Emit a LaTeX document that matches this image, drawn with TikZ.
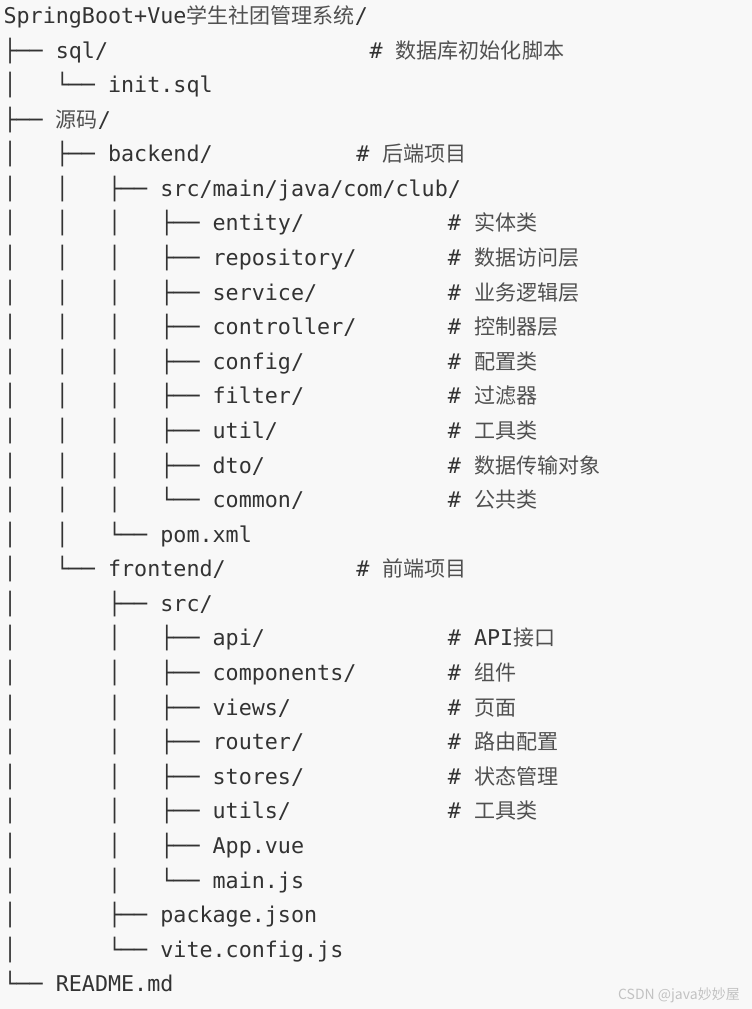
\documentclass[tikz,border=0pt]{standalone}
\usepackage{fontspec}
\setmainfont{DejaVu Sans Mono}
\newfontfamily\cjk[Scale=0.97]{Noto Sans CJK SC}
\newfontfamily\markfont{Noto Sans CJK SC}
\definecolor{bgpage}{HTML}{F8F8F8}
\definecolor{codetext}{HTML}{333333}
\definecolor{cjktext}{HTML}{505050}
\definecolor{markgray}{HTML}{C2C2C2}
\def\zh#1{{\cjk\color{cjktext}#1}}
\def\tpipe{│~~~}
\def\tgap{~~~~}
\def\tee{├──~}
\def\elbow{└──~}
\tikzset{
	treerow/.style={anchor=base west, inner sep=0pt, text=codetext, font=\fontsize{16.28}{20}\selectfont},
	cmt/.style={treerow},
}

\begin{document}
\begin{tikzpicture}[x=0.75pt, y=-0.75pt]
			%%%%% START %%%%%
			
			\path[fill=bgpage, use as bounding box] (0, 0) rectangle (752, 1009);
			
			\node[treerow] (l1) at (3.3, 23.5) {SpringBoot+Vue\zh{学生社团管理系统}/};
			\node[treerow] (l2) at (3.3, 58.1) {\tee sql/};
			\node[cmt] (c2) at (369.3, 58.1) {\#~\zh{数据库初始化脚本}};
			\node[treerow] (l3) at (3.3, 92.7) {\tpipe\elbow init.sql};
			\node[treerow] (l4) at (3.3, 127.2) {\tee\zh{源码}/};
			
			% backend
			\node[treerow] (l5) at (3.3, 161.8) {\tpipe\tee backend/};
			\node[cmt] (c5) at (356.2, 161.8) {\#~\zh{后端项目}};
			\node[treerow] (l6) at (3.3, 196.4) {\tpipe\tpipe\tee src/main/java/com/club/};
			\node[treerow] (l7) at (3.3, 231.0) {\tpipe\tpipe\tpipe\tee entity/};
			\node[cmt] (c7) at (447.7, 231.0) {\#~\zh{实体类}};
			\node[treerow] (l8) at (3.3, 265.6) {\tpipe\tpipe\tpipe\tee repository/};
			\node[cmt] (c8) at (447.7, 265.6) {\#~\zh{数据访问层}};
			\node[treerow] (l9) at (3.3, 300.1) {\tpipe\tpipe\tpipe\tee service/};
			\node[cmt] (c9) at (447.7, 300.1) {\#~\zh{业务逻辑层}};
			\node[treerow] (l10) at (3.3, 334.7) {\tpipe\tpipe\tpipe\tee controller/};
			\node[cmt] (c10) at (447.7, 334.7) {\#~\zh{控制器层}};
			\node[treerow] (l11) at (3.3, 369.3) {\tpipe\tpipe\tpipe\tee config/};
			\node[cmt] (c11) at (447.7, 369.3) {\#~\zh{配置类}};
			\node[treerow] (l12) at (3.3, 403.9) {\tpipe\tpipe\tpipe\tee filter/};
			\node[cmt] (c12) at (447.7, 403.9) {\#~\zh{过滤器}};
			\node[treerow] (l13) at (3.3, 438.5) {\tpipe\tpipe\tpipe\tee util/};
			\node[cmt] (c13) at (447.7, 438.5) {\#~\zh{工具类}};
			\node[treerow] (l14) at (3.3, 473.0) {\tpipe\tpipe\tpipe\tee dto/};
			\node[cmt] (c14) at (447.7, 473.0) {\#~\zh{数据传输对象}};
			\node[treerow] (l15) at (3.3, 507.6) {\tpipe\tpipe\tpipe\elbow common/};
			\node[cmt] (c15) at (447.7, 507.6) {\#~\zh{公共类}};
			\node[treerow] (l16) at (3.3, 542.2) {\tpipe\tpipe\elbow pom.xml};
			
			% frontend
			\node[treerow] (l17) at (3.3, 576.8) {\tpipe\elbow frontend/};
			\node[cmt] (c17) at (356.2, 576.8) {\#~\zh{前端项目}};
			\node[treerow] (l18) at (3.3, 611.4) {\tpipe\tgap\tee src/};
			\node[treerow] (l19) at (3.3, 645.9) {\tpipe\tgap\tpipe\tee api/};
			\node[cmt] (c19) at (447.7, 645.9) {\#~API\zh{接口}};
			\node[treerow] (l20) at (3.3, 680.5) {\tpipe\tgap\tpipe\tee components/};
			\node[cmt] (c20) at (447.7, 680.5) {\#~\zh{组件}};
			\node[treerow] (l21) at (3.3, 715.1) {\tpipe\tgap\tpipe\tee views/};
			\node[cmt] (c21) at (447.7, 715.1) {\#~\zh{页面}};
			\node[treerow] (l22) at (3.3, 749.7) {\tpipe\tgap\tpipe\tee router/};
			\node[cmt] (c22) at (447.7, 749.7) {\#~\zh{路由配置}};
			\node[treerow] (l23) at (3.3, 784.3) {\tpipe\tgap\tpipe\tee stores/};
			\node[cmt] (c23) at (447.7, 784.3) {\#~\zh{状态管理}};
			\node[treerow] (l24) at (3.3, 818.8) {\tpipe\tgap\tpipe\tee utils/};
			\node[cmt] (c24) at (447.7, 818.8) {\#~\zh{工具类}};
			\node[treerow] (l25) at (3.3, 853.4) {\tpipe\tgap\tpipe\tee App.vue};
			\node[treerow] (l26) at (3.3, 888.0) {\tpipe\tgap\tpipe\elbow main.js};
			\node[treerow] (l27) at (3.3, 922.6) {\tpipe\tgap\tee package.json};
			\node[treerow] (l28) at (3.3, 957.2) {\tpipe\tgap\elbow vite.config.js};
			\node[treerow] (l29) at (3.3, 991.7) {\elbow README.md};
			
			\node[anchor=base east, inner sep=0pt, text=markgray, font=\markfont\fontsize{10.5}{12}\selectfont] (mark) at (740, 999) {CSDN @java妙妙屋};
			
			%%%%% END %%%%%
		\end{tikzpicture}
\end{document}
